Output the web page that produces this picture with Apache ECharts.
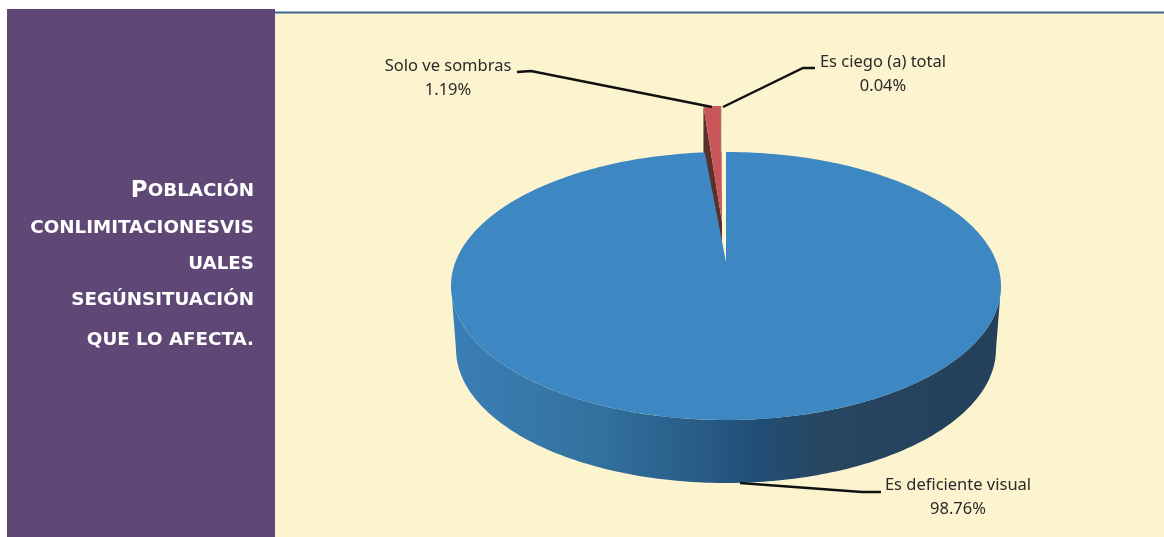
<!DOCTYPE html>
<html><head><meta charset="utf-8">
<style>html,body{margin:0;padding:0;background:#fff}#c{width:1164px;height:537px}</style>
<script src="https://cdn.jsdelivr.net/npm/echarts@6/dist/echarts.min.js"></script>
</head><body><div id="c"></div>
<script>
const categories = ['Es deficiente visual', 'Solo ve sombras', 'Es ciego (a) total'];
const values = [98.76, 1.19, 0.04];
const titleLines = ['OBLACIÓN', 'CONLIMITACIONESVIS', 'UALES', 'SEGÚNSITUACIÓN', 'QUE LO AFECTA.'];
const titleInitial = 'P';

const total = values.reduce((a, b) => a + b, 0);
const spans = []; let acc = 0;
values.forEach(v => { spans.push([acc / total * 360, (acc + v) / total * 360]); acc += v; });

const TOP = {cx: 726, cy: 286, rx: 275, ry: 134, apexY: 262};
const BASE = {cx: 726, cy: 349, rx: 270, ry: 134};
const OUT = {cx: 722, cy: 222, rx: 240, ry: 116};
const rad = d => d * Math.PI / 180;
const pt = (e, d) => [e.cx + e.rx * Math.sin(rad(d)), e.cy - e.ry * Math.cos(rad(d))];
const arc = (e, a, b) => { const p = [], n = Math.max(2, Math.ceil(Math.abs(b - a))); for (let i = 0; i <= n; i++) p.push(pt(e, a + (b - a) * i / n)); return p; };

const labelPos = [
  {x: 958, y: 497, line: [[740, 483], [862, 492], [881, 492]]},
  {x: 448, y: 78, line: [[517, 72], [531, 71], [712, 107]]},
  {x: 883, y: 74, line: [[815, 68], [803, 68], [723, 107]]}
];
const font = '"Noto Sans", sans-serif';

function label(i) {
  const l = labelPos[i];
  return [
    {type: 'polyline', z2: 20, shape: {points: l.line}, style: {fill: 'none', stroke: '#111', lineWidth: 2.5}},
    {type: 'text', z2: 20, style: {x: l.x, y: l.y, text: categories[i] + '\n' + values[i].toFixed(2) + '%', align: 'center', verticalAlign: 'middle', font: '16.5px ' + font, lineHeight: 24, fill: '#2a2a2a'}}
  ];
}
function renderItem(params, api) {
  const i = api.value(0);
  const [a, b] = spans[i];
  let kids = [];
  if (i === 0) {
    const wall = arc(TOP, 90, 270).concat(arc(BASE, 270, 90));
    kids.push({type: 'polygon', z2: 5, shape: {points: wall}, style: {fill: new echarts.graphic.LinearGradient(0, 0, 1, 0, [
      {offset: 0, color: '#3A7FB6'}, {offset: 0.26, color: '#33729F'}, {offset: 0.45, color: '#285C87'},
      {offset: 0.56, color: '#214E75'}, {offset: 0.68, color: '#274660'}, {offset: 1, color: '#24405A'}])}});
    kids.push({type: 'polygon', z2: 6, shape: {points: arc(TOP, a, b).concat([[TOP.cx, TOP.apexY]])}, style: {fill: '#3D87C3'}});
  } else if (i === 1) {
    const o = arc(OUT, a, b);
    kids.push({type: 'polygon', z2: 2, shape: {points: [o[0], [o[0][0], o[0][1] + 63], [OUT.cx, OUT.cy + 32], [OUT.cx, OUT.cy]]}, style: {fill: '#5B2F2C'}});
    kids.push({type: 'polygon', z2: 3, shape: {points: o.concat([[OUT.cx, OUT.cy]])}, style: {fill: '#C9575A'}});
  } else {
    const o = arc(OUT, a, b);
    kids.push({type: 'polygon', z2: 1, shape: {points: [o[0], [o[0][0] + 3.5, o[0][1] + 46], [TOP.cx, TOP.apexY], [OUT.cx, OUT.cy]]}, style: {fill: '#FFF9D8'}});
    kids.push({type: 'polyline', z2: 4, shape: {points: [o[0], [o[0][0], o[0][1] + 46]]}, style: {fill: 'none', stroke: '#C4DDB0', lineWidth: 1}});
  }
  return {type: 'group', children: kids.concat(label(i))};
}

const lineY = [191, 228, 264, 300, 340];
const chart = echarts.init(document.getElementById('c'), null, {renderer: 'canvas'});
chart.setOption({
  animation: false,
  backgroundColor: '#fff',
  graphic: [
    {type: 'rect', z: -3, shape: {x: 275, y: 13, width: 889, height: 524}, style: {fill: '#FCF3CF'}},
    {type: 'rect', z: -2, shape: {x: 275, y: 11.5, width: 889, height: 2}, style: {fill: '#3E6690'}},
    {type: 'rect', z: -1, shape: {x: 7, y: 9, width: 268, height: 528}, style: {fill: '#5F4876'}},
    ...titleLines.map((t, i) => ({
      type: 'text', z: 1,
      style: {
        x: 254, y: lineY[i], align: 'right', verticalAlign: 'middle',
        text: i === 0 ? '{a|' + titleInitial + '}{b|' + t + '}' : '{b|' + t + '}',
        rich: {
          a: {font: 'bold 23px "DejaVu Sans"', fill: '#fff'},
          b: {font: 'bold 18.3px "DejaVu Sans"', fill: '#fff'}
        }
      }
    }))
  ],
  series: [{
    type: 'custom',
    coordinateSystem: 'none',
    silent: true,
    data: values.map((v, i) => [i, v]),
    renderItem
  }]
});
</script></body></html>
